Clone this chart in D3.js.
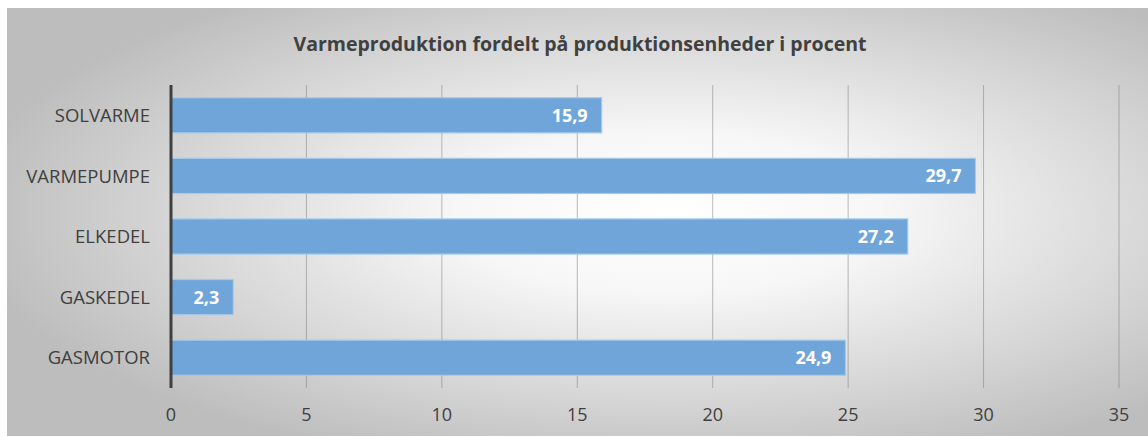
<!DOCTYPE html>
<html>
<head>
<meta charset="utf-8">
<script src="https://cdn.jsdelivr.net/npm/d3@7"></script>
<style>
  html, body { margin: 0; padding: 0; background: #fff; }
  svg { display: block; }
  text { font-family: "Open Sans", Lato, sans-serif; }
</style>
</head>
<body>
<div id="chart"></div>
<script>
// data
const categories = ["SOLVARME", "VARMEPUMPE", "ELKEDEL", "GASKEDEL", "GASMOTOR"];
const values = [15.9, 29.7, 27.2, 2.3, 24.9];
const ticks = [0, 5, 10, 15, 20, 25, 30, 35];
const title = "Varmeproduktion fordelt på produktionsenheder i procent";

const W = 1148, H = 437;
const m = { left: 171, right: 29, top: 85, bottom: 49 };

const svg = d3.select("#chart").append("svg").attr("width", W).attr("height", H);

const defs = svg.append("defs");
const grad = defs.append("radialGradient").attr("id", "bg")
  .attr("cx", "58%").attr("cy", "48%").attr("r", "62%");
grad.append("stop").attr("offset", "0%").attr("stop-color", "#ffffff");
grad.append("stop").attr("offset", "30%").attr("stop-color", "#f7f7f7");
grad.append("stop").attr("offset", "100%").attr("stop-color", "#bdbdbd");

svg.append("rect").attr("x", 7).attr("y", 8).attr("width", W - 7).attr("height", 428)
  .attr("fill", "url(#bg)");

const x = d3.scaleLinear().domain([0, 35]).range([m.left, W - m.right]);
const y = d3.scaleBand().domain(categories).range([m.top, H - m.bottom]).paddingInner(0.42).paddingOuter(0.21);

// gridlines
svg.append("g").selectAll("line").data(ticks.slice(1)).join("line")
  .attr("x1", d => x(d)).attr("x2", d => x(d))
  .attr("y1", m.top).attr("y2", H - m.bottom)
  .attr("stroke", "#7a7a7a").attr("stroke-opacity", 0.5).attr("stroke-width", 1);

// bars
svg.append("g").selectAll("rect").data(values).join("rect")
  .attr("x", x(0)).attr("y", (d, i) => y(categories[i]))
  .attr("width", d => x(d) - x(0)).attr("height", y.bandwidth())
  .attr("fill", "#6fa5d9").attr("stroke", "#a6c9ea").attr("stroke-width", 1.2);

// value labels
svg.append("g").selectAll("text").data(values).join("text")
  .attr("x", d => x(d) - 14).attr("y", (d, i) => y(categories[i]) + y.bandwidth() / 2)
  .attr("dy", "0.36em").attr("text-anchor", "end")
  .attr("fill", "#fff").attr("font-weight", "bold").attr("font-size", 18)
  .text(d => d.toString().replace(".", ","));

// axis line
svg.append("line").attr("x1", x(0)).attr("x2", x(0)).attr("y1", m.top).attr("y2", H - m.bottom)
  .attr("stroke", "#404040").attr("stroke-width", 3);

// category labels
svg.append("g").selectAll("text").data(categories).join("text")
  .attr("x", 150).attr("y", d => y(d) + y.bandwidth() / 2)
  .attr("dy", "0.36em").attr("text-anchor", "end")
  .attr("fill", "#404040").attr("font-size", 18.5)
  .text(d => d);

// tick labels
svg.append("g").selectAll("text").data(ticks).join("text")
  .attr("x", d => x(d)).attr("y", 415)
  .attr("dy", "0.36em").attr("text-anchor", "middle")
  .attr("fill", "#404040").attr("font-size", 18)
  .text(d => d);

// title
svg.append("text").attr("x", 580).attr("y", 44).attr("dy", "0.36em")
  .attr("text-anchor", "middle").attr("fill", "#404040")
  .attr("font-weight", "bold").attr("font-size", 19.5)
  .text(title);
</script>
</body>
</html>
